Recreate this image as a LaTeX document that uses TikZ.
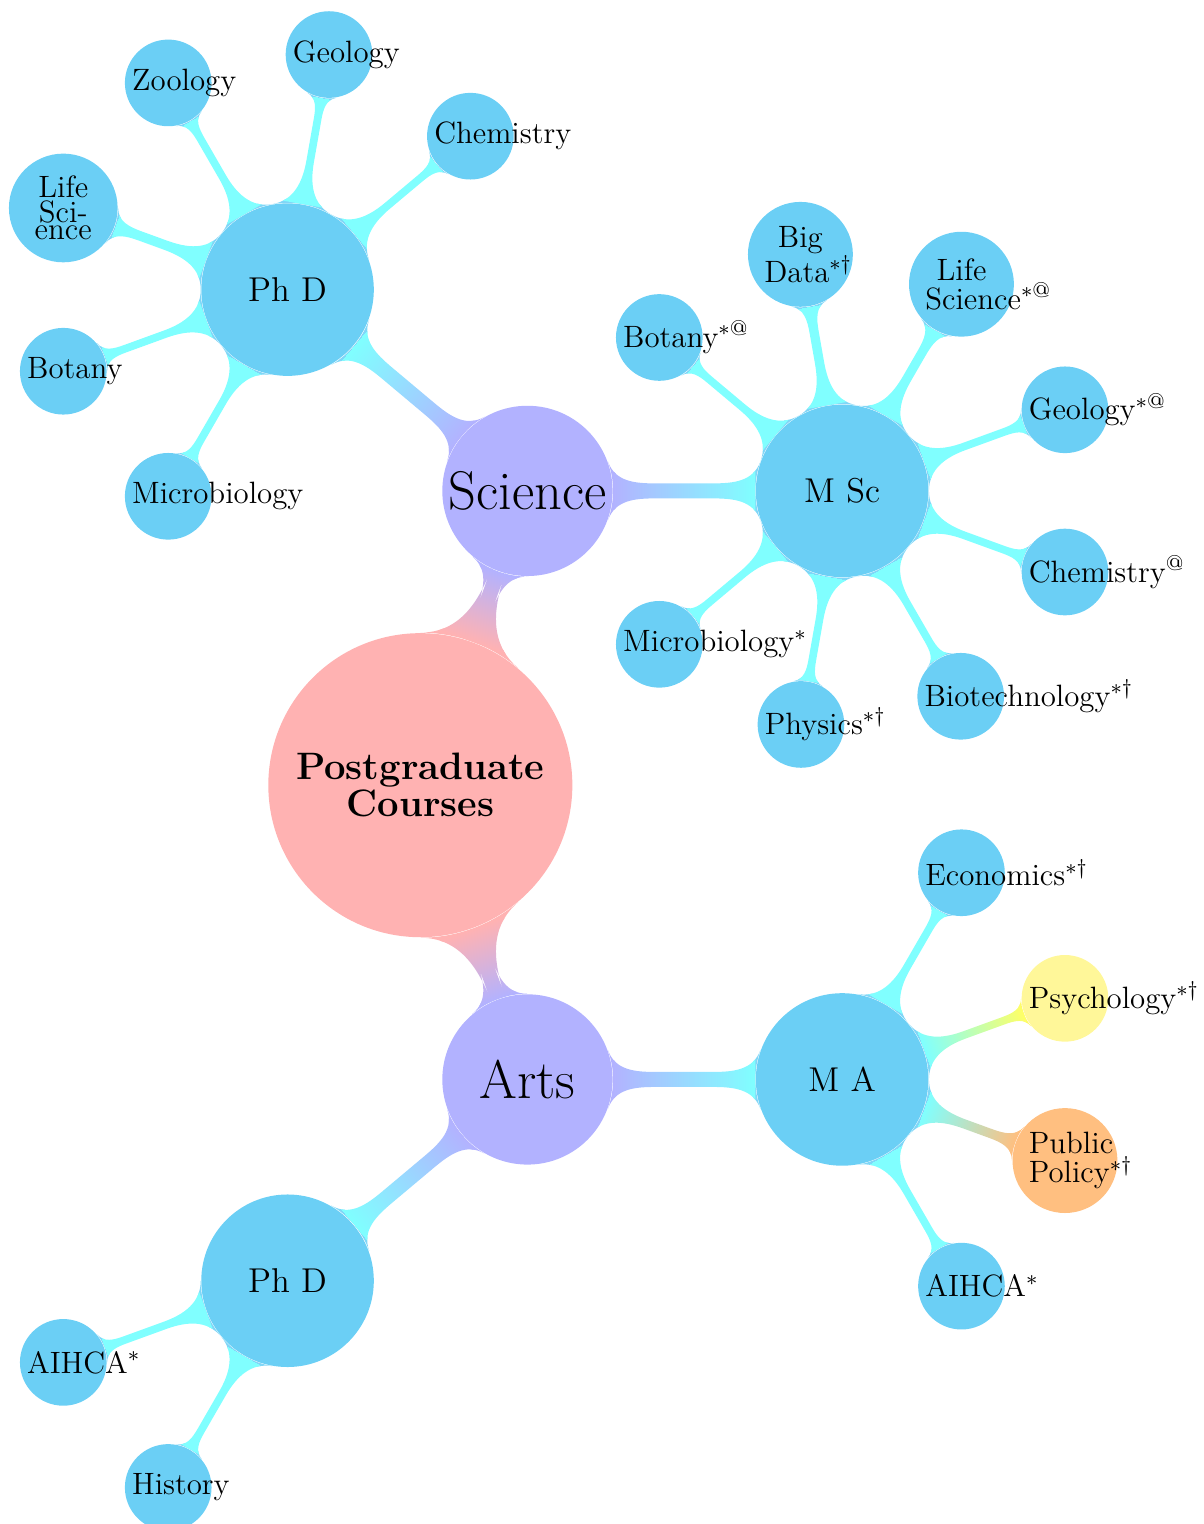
\documentclass[tikz,border=0pt]{standalone}
\usepackage{amsmath}
\usepackage{amssymb}
\usepackage{xcolor}
\usepackage{tikz}
\usetikzlibrary{mindmap,backgrounds}
\definecolor{degblue}{RGB}{107,207,245}
\definecolor{psyyellow}{RGB}{255,247,153}
\tikzset{root node/.style={circle,fill=red!30,minimum size=4cm,inner sep=0pt,text width=3.5cm,align=center,font=\bfseries\fontsize{14.3}{1}\selectfont},
field node/.style={circle,fill=blue!30,minimum size=2.24cm,inner sep=0pt,font=\fontsize{20.4}{22}\selectfont},
degree node/.style={circle,fill=degblue,minimum size=2.27cm,inner sep=0pt,font=\fontsize{12.9}{14}\selectfont},
course node/.style={circle,fill=degblue,minimum size=1.14cm,inner sep=0pt,text width=0.95cm,align=center,font=\fontsize{11.55}{1}\selectfont},
two line/.style={minimum size=1.38cm},
main bar/.style={line width=5.3pt},
leaf bar/.style={line width=3pt},
}

\begin{document}
\begin{tikzpicture}
    \useasboundingbox (0,0) rectangle (15.83,20.05);
    \node[root node] (root) at (5.53,9.72) {Postgraduate\\Courses};
    \node[field node] (sci) at ([shift={(70:4.12)}]root.center) {Science};
    \node[field node] (arts) at ([shift={(-70:4.12)}]root.center) {Arts};

    % Science
    \node[degree node] (sphd) at ([shift={(140:4.12)}]sci.center) {Ph D};
    \node[degree node] (msc) at ([shift={(0:4.14)}]sci.center) {M Sc};

    \node[course node] (sp1) at ([shift={(120:3.14)}]sphd.center) {Zoology};
    \node[course node] (sp2) at ([shift={(80:3.14)}]sphd.center) {Geology};
    \node[course node] (sp3) at ([shift={(40:3.14)}]sphd.center) {Chemistry};
    \node[course node,minimum size=1.43cm] (sp4) at ([shift={(160:3.14)}]sphd.center) {Life\\Sci-\\ence};
    \node[course node] (sp5) at ([shift={(200:3.14)}]sphd.center) {Botany};
    \node[course node] (sp6) at ([shift={(240:3.14)}]sphd.center) {Microbiology};

    \node[course node] (ms1) at ([shift={(140:3.14)}]msc.center) {Botany$^{*@}$};
    \node[course node,two line] (ms2) at ([shift={(100:3.16)}]msc.center) {Big\\Data$^{*\dagger}$};
    \node[course node,two line] (ms3) at ([shift={(60:3.14)}]msc.center) {Life\\Science$^{*@}$};
    \node[course node] (ms4) at ([shift={(20:3.12)}]msc.center) {Geology$^{*@}$};
    \node[course node] (ms5) at ([shift={(-20:3.12)}]msc.center) {Chemistry$^{@}$};
    \node[course node] (ms6) at ([shift={(-60:3.12)}]msc.center) {Biotechnology$^{*\dagger}$};
    \node[course node] (ms7) at ([shift={(-100:3.12)}]msc.center) {Physics$^{*\dagger}$};
    \node[course node] (ms8) at ([shift={(-140:3.14)}]msc.center) {Microbiology$^{*}$};

    % Arts
    \node[degree node] (aphd) at ([shift={(220:4.12)}]arts.center) {Ph D};
    \node[degree node] (ma) at ([shift={(0:4.14)}]arts.center) {M A};

    \node[course node] (ap1) at ([shift={(200:3.14)}]aphd.center) {AIHCA$^{*}$};
    \node[course node] (ap2) at ([shift={(240:3.14)}]aphd.center) {History};

    \node[course node] (ma1) at ([shift={(60:3.14)}]ma.center) {Economics$^{*\dagger}$};
    \node[course node,fill=psyyellow] (ma2) at ([shift={(20:3.12)}]ma.center) {Psychology$^{*\dagger}$};
    \node[course node,two line,fill=orange!50] (ma3) at ([shift={(-20:3.12)}]ma.center) {Public\\Policy$^{*\dagger}$};
    \node[course node] (ma4) at ([shift={(-60:3.14)}]ma.center) {AIHCA$^{*}$};

    \begin{scope}[on background layer]
    \path[main bar] (root) to[circle connection bar switch color=from (red!30) to (blue!30)] (sci);
    \path[main bar] (root) to[circle connection bar switch color=from (red!30) to (blue!30)] (arts);
    \path[main bar] (sci) to[circle connection bar switch color=from (blue!30) to (cyan!50)] (sphd);
    \path[main bar] (sci) to[circle connection bar switch color=from (blue!30) to (cyan!50)] (msc);
    \path[main bar] (arts) to[circle connection bar switch color=from (blue!30) to (cyan!50)] (aphd);
    \path[main bar] (arts) to[circle connection bar switch color=from (blue!30) to (cyan!50)] (ma);

    \path[leaf bar] (sphd) to[circle connection bar switch color=from (cyan!50) to (cyan!50)] (sp1);
    \path[leaf bar] (sphd) to[circle connection bar switch color=from (cyan!50) to (cyan!50)] (sp2);
    \path[leaf bar] (sphd) to[circle connection bar switch color=from (cyan!50) to (cyan!50)] (sp3);
    \path[leaf bar] (sphd) to[circle connection bar switch color=from (cyan!50) to (cyan!50)] (sp4);
    \path[leaf bar] (sphd) to[circle connection bar switch color=from (cyan!50) to (cyan!50)] (sp5);
    \path[leaf bar] (sphd) to[circle connection bar switch color=from (cyan!50) to (cyan!50)] (sp6);

    \path[leaf bar] (msc) to[circle connection bar switch color=from (cyan!50) to (cyan!50)] (ms1);
    \path[leaf bar] (msc) to[circle connection bar switch color=from (cyan!50) to (cyan!50)] (ms2);
    \path[leaf bar] (msc) to[circle connection bar switch color=from (cyan!50) to (cyan!50)] (ms3);
    \path[leaf bar] (msc) to[circle connection bar switch color=from (cyan!50) to (cyan!50)] (ms4);
    \path[leaf bar] (msc) to[circle connection bar switch color=from (cyan!50) to (cyan!50)] (ms5);
    \path[leaf bar] (msc) to[circle connection bar switch color=from (cyan!50) to (cyan!50)] (ms6);
    \path[leaf bar] (msc) to[circle connection bar switch color=from (cyan!50) to (cyan!50)] (ms7);
    \path[leaf bar] (msc) to[circle connection bar switch color=from (cyan!50) to (cyan!50)] (ms8);

    \path[leaf bar] (aphd) to[circle connection bar switch color=from (cyan!50) to (cyan!50)] (ap1);
    \path[leaf bar] (aphd) to[circle connection bar switch color=from (cyan!50) to (cyan!50)] (ap2);

    \path[leaf bar] (ma) to[circle connection bar switch color=from (cyan!50) to (cyan!50)] (ma1);
    \path[leaf bar] (ma) to[circle connection bar switch color=from (cyan!50) to (yellow!60)] (ma2);
    \path[leaf bar] (ma) to[circle connection bar switch color=from (cyan!50) to (orange!50)] (ma3);
    \path[leaf bar] (ma) to[circle connection bar switch color=from (cyan!50) to (cyan!50)] (ma4);
    \end{scope}
\end{tikzpicture}
\end{document}
